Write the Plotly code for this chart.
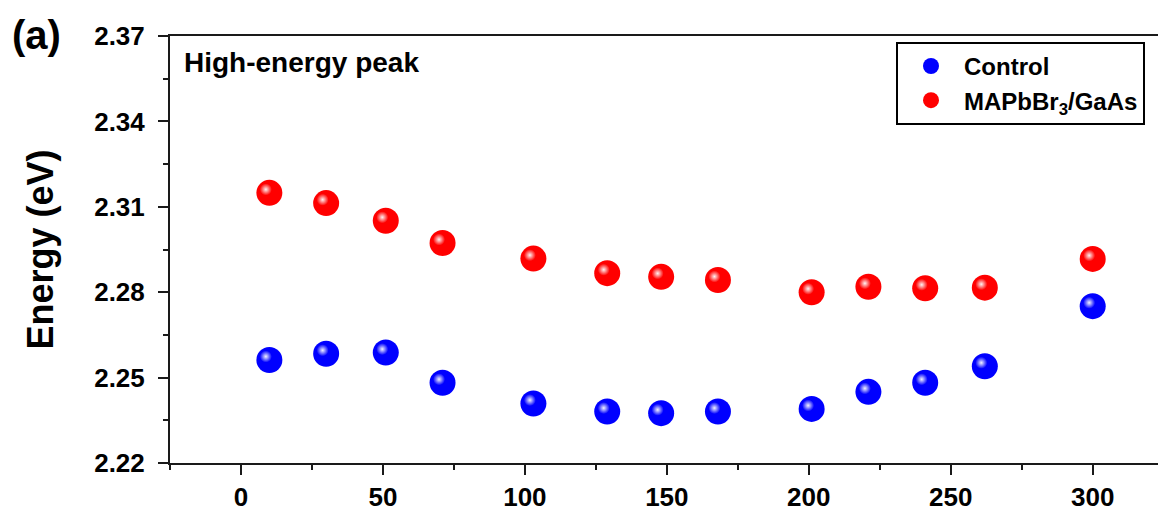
import plotly.graph_objects as go

# Data
temperature = [10, 30, 51, 71, 103, 129, 148, 168, 201, 221, 241, 262, 300]
control = [2.2562, 2.2584, 2.2588, 2.2482, 2.2409, 2.2381, 2.2375, 2.2381,
           2.2390, 2.2450, 2.2482, 2.2540, 2.2751]
mapbbr3_gaas = [2.3149, 2.3113, 2.3051, 2.2973, 2.2918, 2.2867, 2.2854, 2.2843,
                2.2800, 2.2819, 2.2814, 2.2816, 2.2917]
y_ticks = [2.22, 2.25, 2.28, 2.31, 2.34, 2.37]
x_ticks = [0, 50, 100, 150, 200, 250, 300]

FONT = "Liberation Sans, Arial, sans-serif"
AX = "#1a1a1a"
X_RANGE = [-25, 323]
Y_RANGE = [2.22, 2.37]

# highlight offset (a few pixels up-left) expressed as axis-range shift
W, H = 1158, 512
L, R, T, B = 170, 0, 36, 41
px_x = (X_RANGE[1] - X_RANGE[0]) / (W - L - R)
px_y = (Y_RANGE[1] - Y_RANGE[0]) / (H - T - B)
dx, dy = 3.5 * px_x, 3.5 * px_y

fig = go.Figure()
series = [("Control", control, "#0000ff"),
          ("MAPbBr<sub>3</sub>/GaAs", mapbbr3_gaas, "#ff0000")]
for name, vals, col in series:
    fig.add_trace(go.Scatter(
        x=temperature, y=vals, mode="markers", name=name,
        marker=dict(size=26, color=col, line=dict(width=0)),
    ))
for name, vals, col in series:
    fig.add_trace(go.Scatter(
        x=temperature, y=vals, mode="markers", showlegend=False,
        hoverinfo="skip", xaxis="x2", yaxis="y2",
        marker=dict(size=12, color="rgba(255,255,255,0)", line=dict(width=0),
                    gradient=dict(type="radial", color="rgba(255,255,255,0.95)")),
    ))

fig.update_layout(
    width=W, height=H,
    margin=dict(l=L, r=R, t=T, b=B, pad=0),
    paper_bgcolor="white", plot_bgcolor="white",
    font=dict(family=FONT, color="black"),
    showlegend=True,
    legend=dict(
        x=(896 - L) / (W - L - R), y=1 - (42 - T) / (H - T - B),
        xanchor="left", yanchor="top",
        bordercolor="black", borderwidth=2, bgcolor="white",
        font=dict(family=FONT, size=24, weight="bold", color="black"),
        tracegroupgap=0, itemwidth=56,
    ),
    xaxis=dict(
        range=X_RANGE, tickvals=x_ticks, showgrid=False, zeroline=False,
        showline=True, linecolor=AX, linewidth=2, mirror=True,
        ticks="outside", ticklen=10, tickwidth=2, tickcolor=AX,
        tickfont=dict(family=FONT, size=26, weight="bold", color="black"),
        minor=dict(dtick=25, tick0=0, ticks="outside", ticklen=5, tickwidth=2,
                   tickcolor=AX, showgrid=False),
    ),
    yaxis=dict(
        range=Y_RANGE, tickvals=y_ticks, tickformat=".2f", showgrid=False,
        zeroline=False, showline=True, linecolor=AX, linewidth=2,
        ticks="outside", ticklen=10, tickwidth=2, tickcolor=AX,
        tickfont=dict(family=FONT, size=26, weight="bold", color="black"),
        ticklabelstandoff=8,
        minor=dict(dtick=0.015, tick0=2.22, ticks="outside", ticklen=5, tickwidth=2,
                   tickcolor=AX, showgrid=False),
        title=dict(text="Energy (eV)", standoff=30,
                   font=dict(family=FONT, size=36, weight="bold", color="black")),
    ),
    xaxis2=dict(range=[X_RANGE[0] + dx, X_RANGE[1] + dx], overlaying="x",
                visible=False, showgrid=False, zeroline=False),
    yaxis2=dict(range=[Y_RANGE[0] - dy, Y_RANGE[1] - dy], overlaying="y",
                visible=False, showgrid=False, zeroline=False),
    annotations=[
        dict(text="(a)", xref="paper", yref="paper",
             x=(10 - L) / (W - L - R), y=1 + (T - 35) / (H - T - B),
             xanchor="left", yanchor="middle", showarrow=False,
             font=dict(family=FONT, size=40, weight="bold", color="black")),
        dict(text="High-energy peak", xref="paper", yref="paper",
             x=(182 - L) / (W - L - R), y=1 - (63 - T) / (H - T - B),
             xanchor="left", yanchor="middle", showarrow=False,
             font=dict(family=FONT, size=28, weight="bold", color="black")),
    ],
)

fig.write_html("out.html")
